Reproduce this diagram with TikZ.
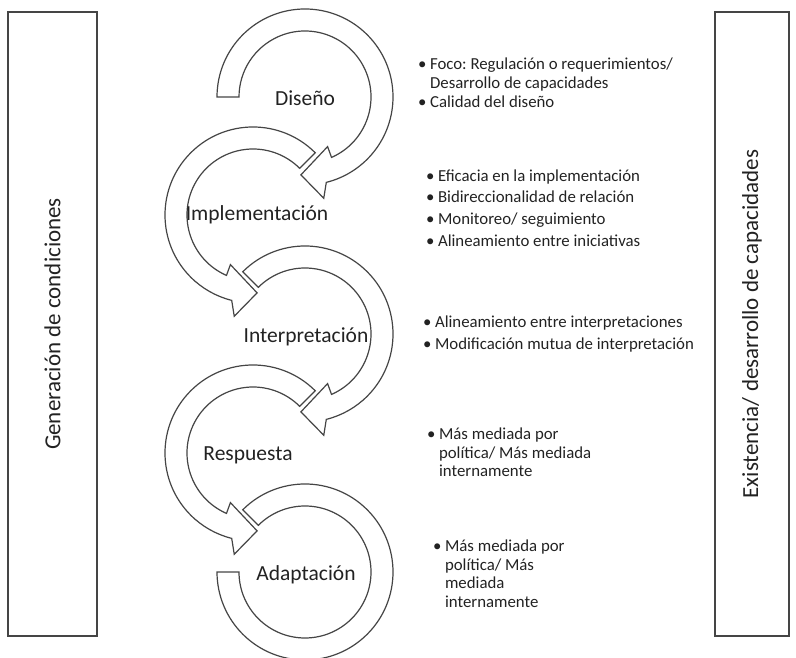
\documentclass[tikz,border=0pt]{standalone}
\usepackage{fontspec}
\setmainfont{Carlito}
\usetikzlibrary{positioning}
\frenchspacing

\definecolor{linea}{HTML}{454545}
\definecolor{texto}{HTML}{222222}

\tikzset{
  banda/.style={draw=linea, fill=white, line width=1.2pt, line join=miter},
  caja/.style={draw=linea, line width=1.3pt, minimum width=624, inner sep=0pt},
  paso/.style={font=\fontsize{21.5}{24}\selectfont, text=texto},
  lateral/.style={font=\fontsize{23}{26}\selectfont, text=texto},
  punto/.style={anchor=base west, inner sep=0pt, text=texto,
    font=\fontsize{16.8}{18.5}\selectfont}
}

% circular band with arrow head: centre, mirror (1 or -1), start angle
\newcommand{\flechacirc}[3]{%
  \begin{scope}[shift={(#1)}, xscale=#2]
    \draw[banda] (#3:88) arc[start angle=#3, end angle=-76, radius=88]
      -- (-79.5:103) -- (-93:78) -- (-65.5:54.5) -- (-66.3:66)
      arc[start angle=-66.3, end angle=#3, radius=66] -- cycle;
  \end{scope}}
\newcommand{\vineta}[1]{\textbullet\hspace{3.5pt}\parbox[t]{12cm}{\raggedright #1}}

\begin{document}
\begin{tikzpicture}[x=1pt, y=1pt]
\useasboundingbox (0,0) rectangle (796,658);

% side boxes
\node[caja, lateral, rotate=90, minimum height=89] (condiciones) at (52.5,334)
  {Generación de condiciones};
\node[caja, lateral, rotate=90, minimum height=74] (capacidades) at (752,334)
  {Existencia/ desarrollo de capacidades};

% centres of the cycle
\coordinate (cDis) at (305,561);
\coordinate (cImp) at (253,443);
\coordinate (cInt) at (305,324);
\coordinate (cRes) at (253,205);
\coordinate (cAda) at (305,86);

% the circular arrows
\flechacirc{cDis}{1}{180}
\flechacirc{cImp}{-1}{135}
\flechacirc{cInt}{1}{135}
\flechacirc{cRes}{-1}{135}
\begin{scope}[shift={(cAda)}]
  \draw[banda] (135:88) arc[start angle=135, end angle=-180, radius=88]
    -- (180:66) arc[start angle=-180, end angle=135, radius=66] -- cycle;
\end{scope}

% stage names
\node[paso] (diseno) at (305,560) {Diseño};
\node[paso] (implementacion) at (257,443) {Implementación};
\node[paso] (interpretacion) at (306,321) {Interpretación};
\node[paso] (respuesta) at (248,203) {Respuesta};
\node[paso] (adaptacion) at (306,83) {Adaptación};

% notes on the right
\node[punto] (foco) at (418,588)
  {\vineta{Foco: Regulación o requerimientos/\\Desarrollo de capacidades}};
\node[punto] (calidad) at (418,550) {\vineta{Calidad del diseño}};
\node[punto] (eficacia) at (426,476) {\vineta{Eficacia en la implementación}};
\node[punto] (bidir) at (426,455) {\vineta{Bidireccionalidad de relación}};
\node[punto] (monitoreo) at (426,433) {\vineta{Monitoreo/ seguimiento}};
\node[punto] (alineaIni) at (426,411) {\vineta{Alineamiento entre iniciativas}};
\node[punto] (alineaInt) at (423,330) {\vineta{Alineamiento entre interpretaciones}};
\node[punto] (modifica) at (423,308) {\vineta{Modificación mutua de interpretación}};
\node[punto] (mediaRes) at (427,218)
  {\vineta{Más mediada por\\política/ Más mediada\\internamente}};
\node[punto] (mediaAda) at (433,106)
  {\vineta{Más mediada por\\política/ Más\\mediada\\internamente}};
\end{tikzpicture}
\end{document}
